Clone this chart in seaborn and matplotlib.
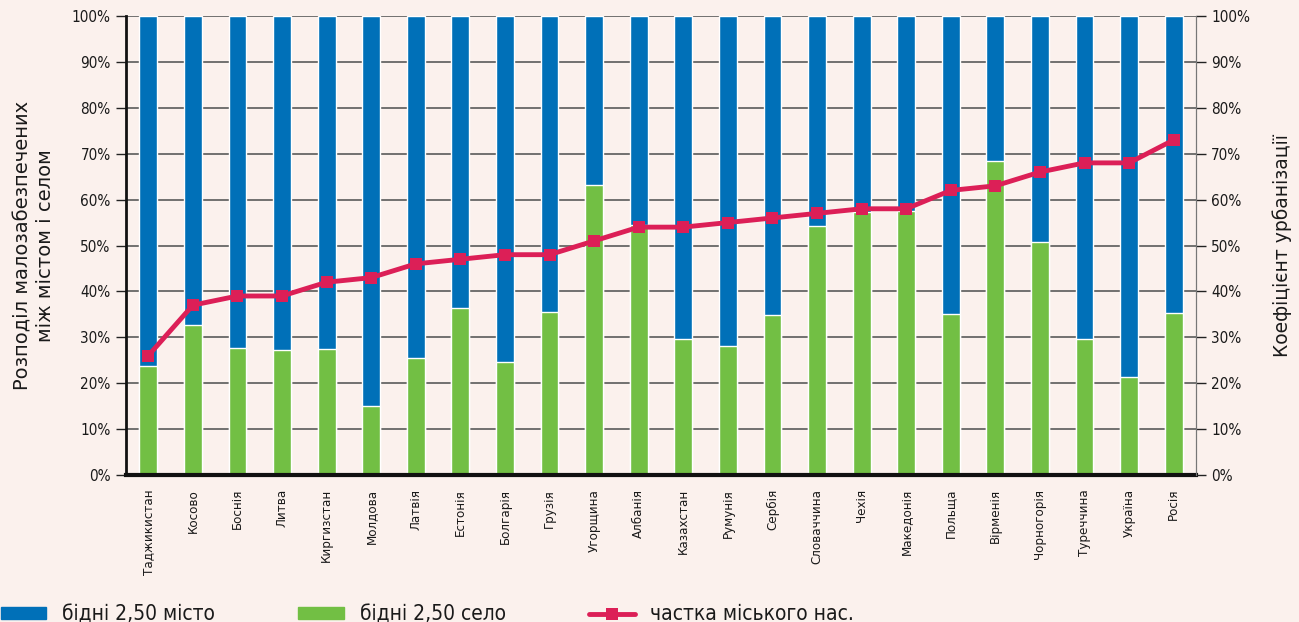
import numpy as np
import pandas as pd
import matplotlib
matplotlib.use('Agg')
import matplotlib.pyplot as plt
import seaborn as sns
from matplotlib.ticker import PercentFormatter, FixedLocator
from matplotlib.patches import Patch
from matplotlib.lines import Line2D

countries = ['Таджикистан', 'Косово', 'Боснія', 'Литва', 'Киргизстан', 'Молдова', 'Латвія',
             'Естонія', 'Болгарія', 'Грузія', 'Угорщина', 'Албанія', 'Казахстан', 'Румунія',
             'Сербія', 'Словаччина', 'Чехія', 'Македонія', 'Польща', 'Вірменія', 'Чорногорія',
             'Туреччина', 'Україна', 'Росія']
rural = [23.7, 32.7, 27.7, 27.2, 27.5, 15.0, 25.5, 36.4, 24.6, 35.5, 63.2, 54.5, 29.6, 28.1,
         34.9, 54.2, 57.4, 57.5, 35.1, 68.4, 50.8, 29.6, 21.3, 35.3]
urban = [100 - r for r in rural]
urbanization = [26, 37, 39, 39, 42, 43, 46, 47, 48, 48, 51, 54, 54, 55, 56, 57, 58, 58, 62, 63,
                66, 68, 68, 73]

BG = '#FBF1ED'
BLUE = '#0070B8'
GREEN = '#72BF44'
RED = '#DC1F57'

sns.set_style('white')
plt.rcParams['font.family'] = ['DejaVu Sans']
plt.rcParams['font.stretch'] = 'condensed'

df = pd.DataFrame({'country': countries, 'rural': rural, 'urban': urban,
                   'urb': urbanization, 'pos': np.arange(len(countries))})

fig = plt.figure(figsize=(12.99, 6.22), dpi=100, facecolor=BG)
ax = fig.add_axes([126 / 1299, 147 / 622, 1070 / 1299, 459 / 622], facecolor=BG)

# blue = whole bar (city part on top), green drawn over it
sns.barplot(data=df, x='pos', y=[100] * len(df), color=BLUE, width=0.4, saturation=1,
            native_scale=True, ax=ax, zorder=2)
sns.barplot(data=df, x='pos', y='rural', color=GREEN, width=0.4, saturation=1,
            native_scale=True, ax=ax, zorder=3)

ax.set_xlim(-0.5, len(countries) - 0.5)
ax.set_ylim(0, 100)
ax.set_yticks(np.arange(0, 101, 10))
ax.yaxis.set_major_formatter(PercentFormatter(decimals=0))
ax.grid(True, axis='y', color='#5a5a5a', lw=1.2, zorder=1)
ax.set_axisbelow(True)

ax.set_xticks(np.arange(len(countries)))
ax.set_xticklabels(countries, rotation=90, fontsize=9.5)
ax.xaxis.set_minor_locator(FixedLocator(np.arange(-0.5, len(countries), 1)))
ax.tick_params(axis='x', which='major', length=0, pad=10, labelcolor='#1a1a1a')
ax.tick_params(axis='x', which='minor', length=6, width=1, color='#222222', direction='out')
ax.tick_params(axis='y', length=7, width=1, color='#222222', labelsize=11, pad=4,
               labelcolor='#1a1a1a')
ax.set_xlabel('')
ax.set_ylabel('Розподіл малозабезпечених\nміж містом і селом', fontsize=14,
              fontstretch='normal', labelpad=12, linespacing=1.25, color='#1a1a1a')

ax.spines['top'].set_visible(False)
ax.spines['left'].set_color('#111111')
ax.spines['left'].set_linewidth(2)
ax.spines['bottom'].set_color('#111111')
ax.spines['bottom'].set_linewidth(3)
ax.spines['bottom'].set_zorder(5)
ax.spines['right'].set_color('#777777')

ax2 = ax.twinx()
sns.lineplot(data=df, x='pos', y='urb', color=RED, lw=3.5, marker='s', markersize=8,
             markeredgewidth=0, ax=ax2, zorder=6)
ax2.set_ylim(0, 100)
ax2.set_xlim(-0.5, len(countries) - 0.5)
ax2.set_yticks(np.arange(0, 101, 10))
ax2.yaxis.set_major_formatter(PercentFormatter(decimals=0))
ax2.tick_params(axis='y', length=7, width=1, color='#222222', labelsize=11, pad=4,
                labelcolor='#1a1a1a')
ax2.set_ylabel('Коефіцієнт урбанізації', fontsize=13.5, fontstretch='normal',
               rotation=90, labelpad=16, color='#1a1a1a')
for s in ['top', 'left', 'bottom']:
    ax2.spines[s].set_visible(False)
ax2.spines['right'].set_color('#777777')

handles = [Patch(color=BLUE), Patch(color=GREEN),
           Line2D([], [], color=RED, lw=3.5, marker='s', markersize=8, markeredgewidth=0)]
labels = ['бідні 2,50 місто', 'бідні 2,50 село', 'частка міського нас.']
fig.legend(handles, labels, loc='lower left', bbox_to_anchor=(-0.014, -0.034), ncol=3,
           frameon=False, fontsize=15, handlelength=2.2, handleheight=0.55,
           columnspacing=4.0, handletextpad=0.75, labelcolor='#1a1a1a')

fig.savefig('out.png', dpi=100, facecolor=BG)
